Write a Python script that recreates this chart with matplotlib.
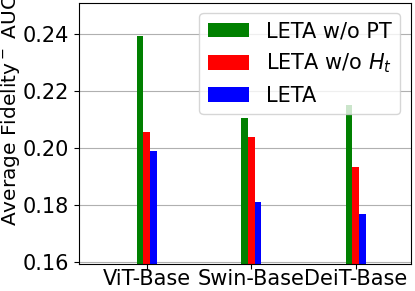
import numpy as np
import matplotlib.pyplot as plt

models = ["ViT-Base", "Swin-Base", "DeiT-Base"]
leta_wo_pt = [0.2393, 0.2108, 0.2152]
leta_wo_ht = [0.2058, 0.2041, 0.1936]
leta = [0.1991, 0.1811, 0.1769]

fig = plt.figure(figsize=(4.15, 2.91), dpi=100)
ax = fig.add_axes([79 / 415, 27 / 291, 331.7 / 415, 261.3 / 291])

x = np.arange(len(models))
w = 0.064
ax.bar(x - w, leta_wo_pt, w, color="green", label="LETA w/o PT", zorder=2)
ax.bar(x, leta_wo_ht, w, color="red", label="LETA w/o $H_t$", zorder=2)
ax.bar(x + w, leta, w, color="blue", label="LETA", zorder=2)

ax.set_xticks(x)
ax.set_xticklabels(models, fontsize=15)
ax.tick_params(axis="x", pad=0)
ax.set_xlim(-0.648, 2.526)
ax.set_ylim(0.1594, 0.2511)
ax.set_yticks([0.16, 0.18, 0.20, 0.22, 0.24])
ax.tick_params(axis="y", labelsize=15)
ax.set_ylabel("Average Fidelity$^-$ AUC", fontsize=14.5)
ax.yaxis.set_label_coords(-0.172, 0.589)
ax.grid(axis="y", color="#b0b0b0", zorder=0)
ax.legend(loc="upper right", fontsize=15)

fig.savefig("out.png", dpi=100)
